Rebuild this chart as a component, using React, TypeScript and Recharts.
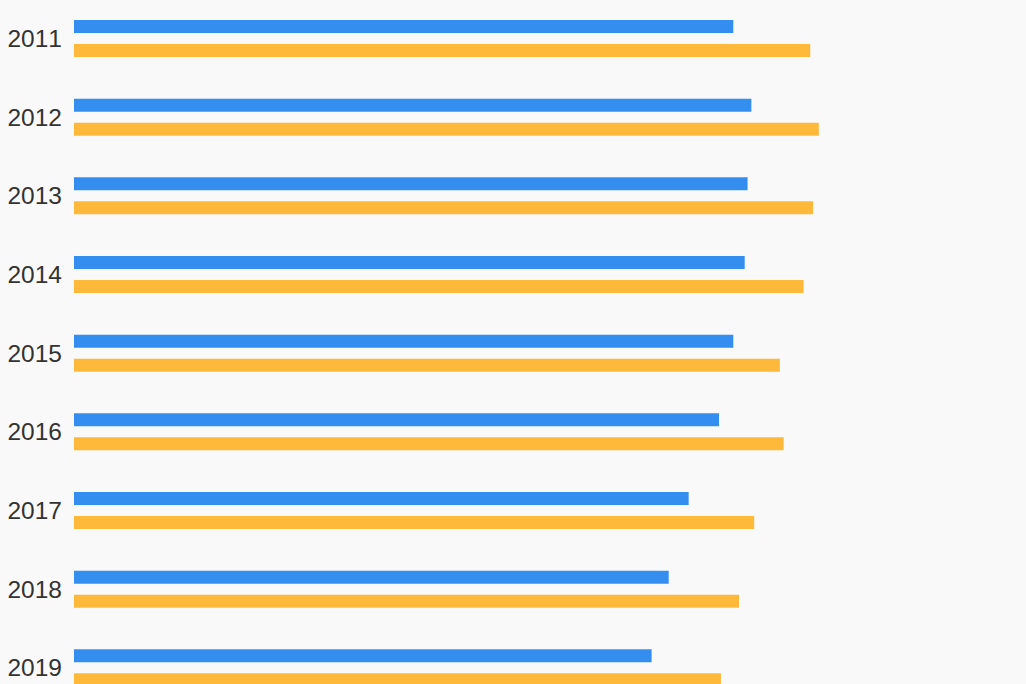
import { BarChart, Bar, XAxis, YAxis } from 'recharts';

const years = ['2011', '2012', '2013', '2014', '2015', '2016', '2017', '2018', '2019'];
const blueValues = [69.4, 71.3, 70.9, 70.6, 69.4, 67.9, 64.7, 62.6, 60.8];
const orangeValues = [77.5, 78.4, 77.8, 76.8, 74.3, 74.7, 71.6, 70.0, 68.1];

const data = years.map((year, i) => ({
  year,
  blue: blueValues[i],
  orange: orangeValues[i]
}));

export default function App() {
  return (
    <div
      style={{
        position: 'absolute',
        left: 0,
        top: 0,
        width: 1026,
        height: 684,
        overflow: 'hidden',
        background: '#f9f9f9'
      }}
    >
      <div style={{ marginTop: -1.5 }}>
        <BarChart
          width={1026}
          height={708}
          data={data}
          layout="vertical"
          margin={{ top: 0, right: 2, left: 0, bottom: 0 }}
          barSize={13}
          barGap={11}
        >
          <XAxis type="number" domain={[0, 100]} hide />
          <YAxis
            type="category"
            dataKey="year"
            width={74}
            axisLine={false}
            tickLine={false}
            tickMargin={6}
            tick={{
              fill: '#333333',
              fontSize: 24.5,
              fontFamily: 'Liberation Sans, Arial, sans-serif',
              style: { fontKerning: 'none' }
            }}
          />
          <Bar dataKey="blue" fill="#338eef" isAnimationActive={false} />
          <Bar dataKey="orange" fill="#ffb93a" isAnimationActive={false} />
        </BarChart>
      </div>
    </div>
  );
}
